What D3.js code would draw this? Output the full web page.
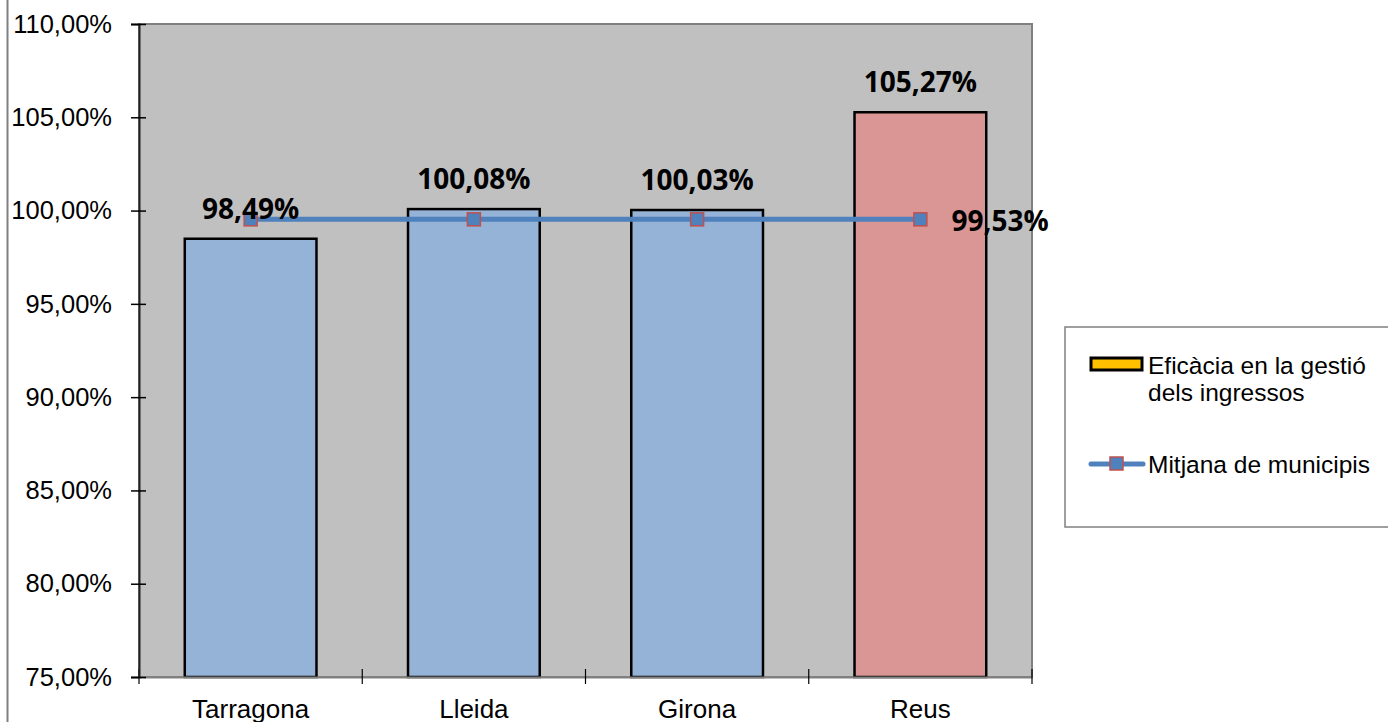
<!DOCTYPE html>
<html><head><meta charset="utf-8">
<script src="https://cdn.jsdelivr.net/npm/d3@7"></script>
<style>body{margin:0;background:#fff;}svg{display:block;}</style>
</head><body>
<svg id="c" width="1388" height="722"></svg>
<script>
const categories = ["Tarragona", "Lleida", "Girona", "Reus"];
const efficacy = [98.49, 100.08, 100.03, 105.27];
const average = [99.53, 99.53, 99.53, 99.53];
const barColors = ["#95B3D7", "#95B3D7", "#95B3D7", "#D99694"];
const yTicks = [75, 80, 85, 90, 95, 100, 105, 110];
const seriesNames = ["Eficàcia en la gestió|dels ingressos", "Mitjana de municipis"];

const fmt = v => v.toFixed(2).replace(".", ",") + "%";
const svg = d3.select("#c");
const L = 139, R = 1032, T = 24, B = 677;
const sans = "Liberation Sans, Arial, sans-serif";

svg.append("line").attr("x1", 7.5).attr("x2", 7.5).attr("y1", 0).attr("y2", 722)
  .attr("stroke", "#808080").attr("stroke-width", 2);

const x = d3.scaleBand().domain(categories).range([L, R]).paddingInner(0.41).paddingOuter(0.205);
const xc = d3.scaleBand().domain(categories).range([L, R]);
const y = d3.scaleLinear().domain([75, 110]).range([B, T]);

svg.append("rect").attr("x", L).attr("y", T).attr("width", R - L).attr("height", B - T)
  .attr("fill", "#C0C0C0").attr("stroke", "#808080").attr("stroke-width", 2);

svg.selectAll("rect.bar").data(categories).enter().append("rect").attr("class", "bar")
  .attr("x", d => x(d)).attr("width", x.bandwidth())
  .attr("y", (d, i) => y(efficacy[i])).attr("height", (d, i) => B - y(efficacy[i]))
  .attr("fill", (d, i) => barColors[i]).attr("stroke", "#000").attr("stroke-width", 2.5);

// x axis
const xa = svg.append("g").attr("transform", `translate(0,${B})`)
  .call(d3.axisBottom(xc).tickSize(0).tickPadding(0));
xa.select(".domain").attr("stroke", "#808080").attr("stroke-width", 2);
xa.selectAll("text").attr("dy", null).attr("y", 41).attr("font-family", sans).attr("font-size", 26).attr("fill", "#000");
const bounds = categories.map(c => xc(c)).concat([R]);
svg.selectAll("line.xt").data(bounds).enter().append("line").attr("class", "xt")
  .attr("x1", d => d).attr("x2", d => d).attr("y1", B - 8).attr("y2", B + 7)
  .attr("stroke", "#000").attr("stroke-width", 1.2);

// y axis
const ya = svg.append("g").attr("transform", `translate(${L},0)`)
  .call(d3.axisLeft(y).tickValues(yTicks).tickFormat(fmt).tickSize(8).tickPadding(19));
ya.select(".domain").attr("stroke", "#222").attr("stroke-width", 2);
ya.selectAll(".tick line").attr("stroke", "#000").attr("stroke-width", 1.5).attr("x2", -8).attr("x1", 7);
ya.selectAll("text").attr("font-family", sans).attr("font-size", 25.5).attr("fill", "#000");

// line series
const cx = d => xc(d) + xc.bandwidth() / 2;
svg.append("path").datum(categories)
  .attr("d", d3.line().x(d => cx(d)).y((d, i) => y(average[i])))
  .attr("fill", "none").attr("stroke", "#4F81BD").attr("stroke-width", 5);
svg.selectAll("rect.mk").data(categories).enter().append("rect").attr("class", "mk")
  .attr("x", d => cx(d) - 6.5).attr("y", (d, i) => y(average[i]) - 6.5)
  .attr("width", 13).attr("height", 13)
  .attr("fill", "#4F81BD").attr("stroke", "#C0504D").attr("stroke-width", 1.5);

// data labels
const lblFont = "Open Sans, Lato, sans-serif";
svg.selectAll("text.bl").data(categories).enter().append("text").attr("class", "bl")
  .attr("x", d => cx(d)).attr("y", (d, i) => y(efficacy[i]) - 20)
  .attr("text-anchor", "middle").attr("font-family", lblFont).attr("font-weight", "bold")
  .attr("font-size", 28).attr("fill", "#000").text((d, i) => fmt(efficacy[i]));
svg.append("text").attr("x", cx(categories[3]) + 31).attr("y", y(average[3]) + 12)
  .attr("font-family", lblFont).attr("font-weight", "bold").attr("font-size", 28)
  .attr("fill", "#000").text(fmt(average[3]));

// legend
const lg = svg.append("g");
lg.append("rect").attr("x", 1065).attr("y", 327).attr("width", 340).attr("height", 200)
  .attr("fill", "#fff").attr("stroke", "#808080").attr("stroke-width", 1.5);
lg.append("rect").attr("x", 1091).attr("y", 358).attr("width", 51).attr("height", 12)
  .attr("fill", "#FFC000").attr("stroke", "#000").attr("stroke-width", 3);
const t1 = lg.append("text").attr("font-family", sans).attr("font-size", 24.5).attr("fill", "#000");
seriesNames[0].split("|").forEach((s, i) => t1.append("tspan").attr("x", 1148).attr("y", 374 + i * 27).text(s));
lg.append("line").attr("x1", 1091).attr("x2", 1143).attr("y1", 464).attr("y2", 464)
  .attr("stroke", "#4F81BD").attr("stroke-width", 5).attr("stroke-linecap", "round");
lg.append("rect").attr("x", 1110).attr("y", 457).attr("width", 13).attr("height", 13)
  .attr("fill", "#4F81BD").attr("stroke", "#C0504D").attr("stroke-width", 1.5);
lg.append("text").attr("x", 1148).attr("y", 473).attr("font-family", sans)
  .attr("font-size", 24.5).attr("fill", "#000").text(seriesNames[1]);
</script>
</body></html>
